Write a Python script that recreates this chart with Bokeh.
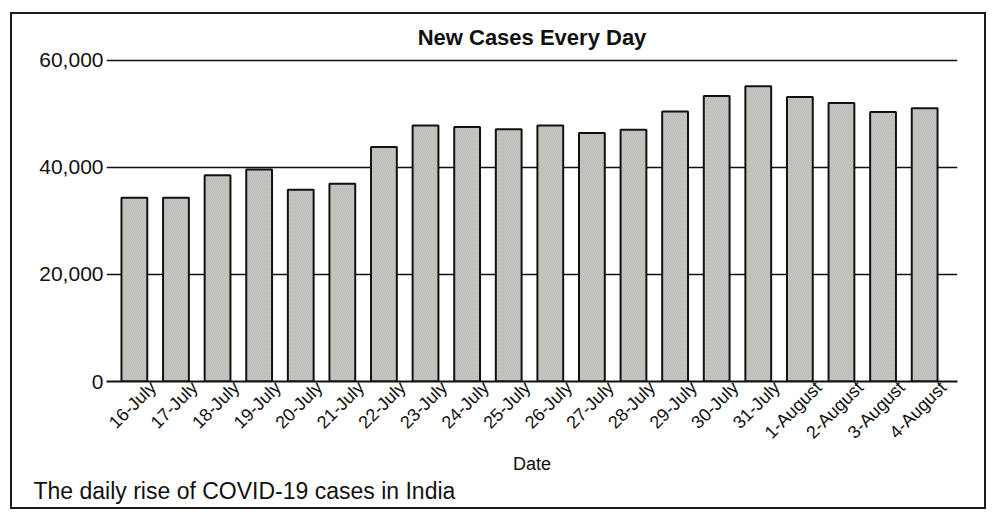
from bokeh.plotting import figure
from bokeh.models import (FixedTicker, NumeralTickFormatter, Range1d, Title,
                          ColumnDataSource)
from bokeh.embed import file_html
from bokeh.resources import INLINE
import math

dates = ["16-July", "17-July", "18-July", "19-July", "20-July", "21-July",
         "22-July", "23-July", "24-July", "25-July", "26-July", "27-July",
         "28-July", "29-July", "30-July", "31-July", "1-August", "2-August",
         "3-August", "4-August"]
new_cases = [34300, 34300, 38500, 39600, 35800, 36900, 43800, 47800, 47500,
             47100, 47800, 46400, 47000, 50400, 53300, 55100, 53100, 52000,
             50300, 51000]
y_ticks = [0, 20000, 40000, 60000]

idx = list(range(len(dates)))
label_pos = [i + 0.45 for i in idx]
src = ColumnDataSource(dict(x=idx, top=new_cases, label=dates))

p = figure(width=976, height=497, output_backend="svg", toolbar_location=None,
           x_range=Range1d(-0.67, len(dates) - 1 + 0.79),
           y_range=Range1d(0, 60300),
           min_border_left=94, min_border_right=31, min_border_top=42,
           min_border_bottom=117)
p.styles = {"border": "2px solid #1a1a1a", "margin-left": "10px",
            "margin-top": "12px"}
p.outline_line_color = None
p.background_fill_color = "white"
p.border_fill_color = "white"

p.title.text = "New Cases Every Day"
p.title.align = "center"
p.title.text_font = "Liberation Sans"
p.title.text_font_size = "22px"
p.title.text_font_style = "bold"
p.title.text_color = "#111111"
p.title.standoff = 17

p.vbar(x="x", top="top", bottom=0, width=0.62, source=src,
       fill_color="#c6c8c1", line_color="#111111", line_width=2,
       hatch_pattern="/", hatch_color="#9ea19a", hatch_scale=4,
       hatch_weight=0.6, hatch_alpha=0.5)

# grid
p.xgrid.visible = False
p.ygrid.ticker = FixedTicker(ticks=y_ticks)
p.ygrid.grid_line_color = "#111111"
p.ygrid.grid_line_width = 1.6

# y axis
p.yaxis.ticker = FixedTicker(ticks=y_ticks)
p.yaxis.formatter = NumeralTickFormatter(format="0,0")
p.yaxis.axis_line_color = None
p.yaxis.major_tick_line_color = None
p.yaxis.minor_tick_line_color = None
p.yaxis.major_tick_out = 0
p.yaxis.major_tick_in = 0
p.yaxis.major_label_standoff = 3
p.yaxis.major_label_text_font = "Liberation Sans"
p.yaxis.major_label_text_font_size = "21px"
p.yaxis.major_label_text_color = "#111111"

# x axis (labels placed slightly right of each bar centre, as in the original)
p.xaxis.ticker = FixedTicker(ticks=label_pos)
p.xaxis.major_label_overrides = {pos: d for pos, d in zip(label_pos, dates)}
p.xaxis.major_label_orientation = math.pi / 4
p.xaxis.axis_line_color = "#111111"
p.xaxis.axis_line_width = 2
p.xaxis.major_tick_line_color = None
p.xaxis.minor_tick_line_color = None
p.xaxis.major_tick_out = 0
p.xaxis.major_tick_in = 0
p.xaxis.major_label_standoff = 3
p.xaxis.major_label_text_font = "Liberation Sans"
p.xaxis.major_label_text_font_size = "18px"
p.xaxis.major_label_text_color = "#111111"
p.xaxis.axis_label = "Date"
p.xaxis.axis_label_text_font = "Liberation Sans"
p.xaxis.axis_label_text_font_size = "18px"
p.xaxis.axis_label_text_font_style = "normal"
p.xaxis.axis_label_text_color = "#111111"
p.xaxis.axis_label_standoff = 1

caption = Title(text="The daily rise of COVID-19 cases in India", align="left",
                offset=-73, standoff=0, vertical_align="middle",
                text_font="Liberation Sans", text_font_size="23px",
                text_font_style="normal", text_color="#111111")
p.add_layout(caption, "below")

# small blank spacer under the caption so it sits inside the frame box
spacer = Title(text=" ", standoff=0, text_font_size="4px")
p.add_layout(spacer, "below")

open("out.html", "w").write(file_html(p, INLINE))
